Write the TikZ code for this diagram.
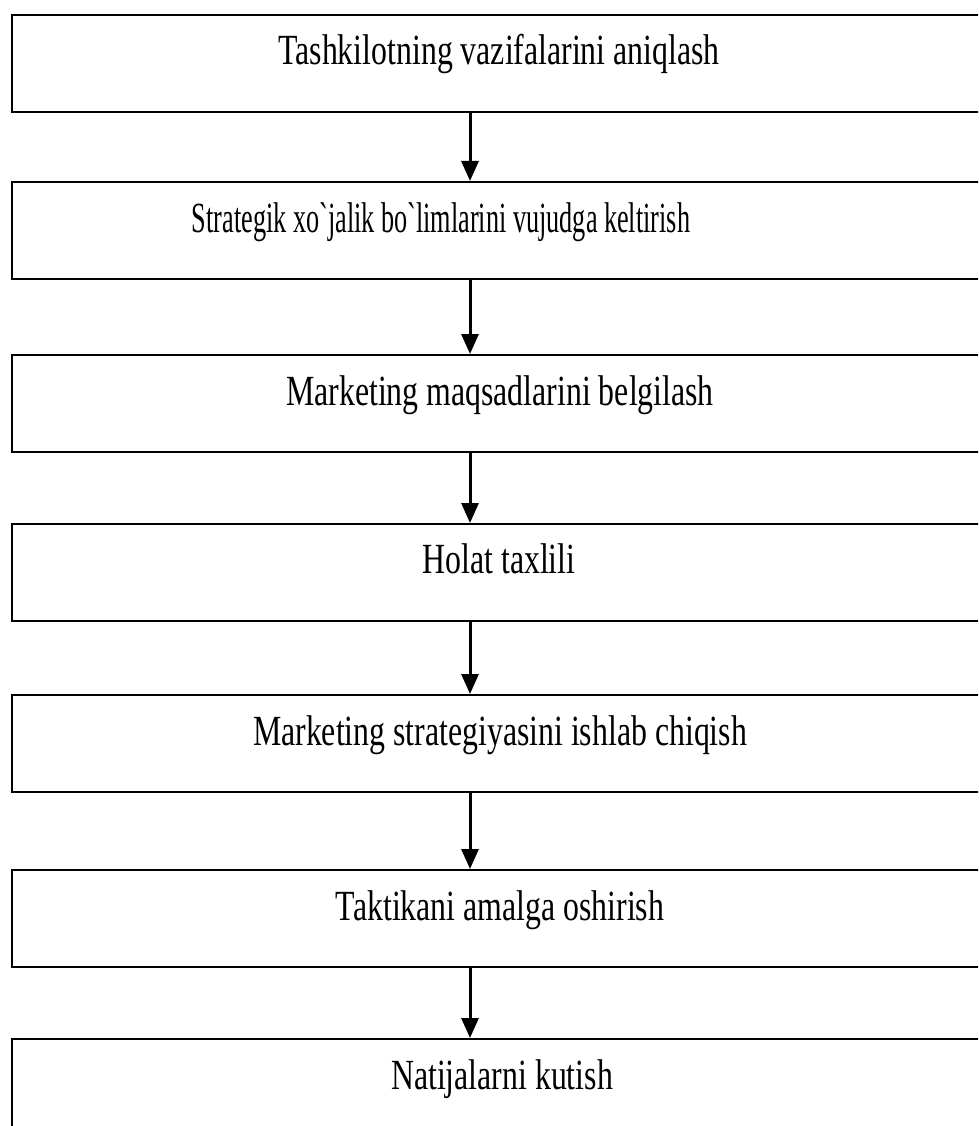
\documentclass[tikz,border=0pt]{standalone}
\usepackage{fontspec}
\newfontfamily\boxfont[FakeStretch=0.74]{Liberation Serif}
\newfontfamily\tightfont[FakeStretch=0.61]{Liberation Serif}
\usetikzlibrary{arrows.meta}

\tikzset{
  stepbox/.style={draw, line width=2.4pt, rectangle, anchor=north west,
    minimum width=1000pt, minimum height=97pt, inner sep=0pt},
  steptext/.style={anchor=base, inner sep=0pt,
    font=\boxfont\fontsize{43}{50}\selectfont},
  tighttext/.style={steptext, font=\tightfont\fontsize{43}{50}\selectfont},
  steparrow/.style={line width=3pt, -{Triangle[length=20pt,width=17pt]}}
}

\begin{document}
\begin{tikzpicture}[x=1pt, y=-1pt]
\useasboundingbox (0,0) rectangle (978,1126);
\clip (0,0) rectangle (978,1126);

% boxes
\node[stepbox] (b1) at (11,14) {};
\node[stepbox] (b2) at (11,181) {};
\node[stepbox] (b3) at (11,354) {};
\node[stepbox] (b4) at (11,523) {};
\node[stepbox] (b5) at (11,694) {};
\node[stepbox] (b6) at (11,869) {};
\node[stepbox] (b7) at (11,1038) {};

% texts
\node[steptext] (t1) at (499,65) {Tashkilotning vazifalarini aniqlash};
\node[tighttext] (t2) at (441,232) {Strategik xo`jalik bo`limlarini vujudga keltirish};
\node[steptext] (t3) at (500,405) {Marketing maqsadlarini belgilash};
\node[steptext] (t4) at (499,573) {Holat taxlili};
\node[steptext] (t5) at (500,745) {Marketing strategiyasini ishlab chiqish};
\node[steptext] (t6) at (500,920) {Taktikani amalga oshirish};
\node[steptext] (t7) at (502,1089) {Natijalarni kutish};

% arrows
\coordinate (ax) at (470,0);
\foreach \a/\b in {b1/b2,b2/b3,b3/b4,b4/b5,b5/b6,b6/b7}
  \draw[steparrow] (\a.south -| ax) -- (\b.north -| ax);
\end{tikzpicture}
\end{document}
